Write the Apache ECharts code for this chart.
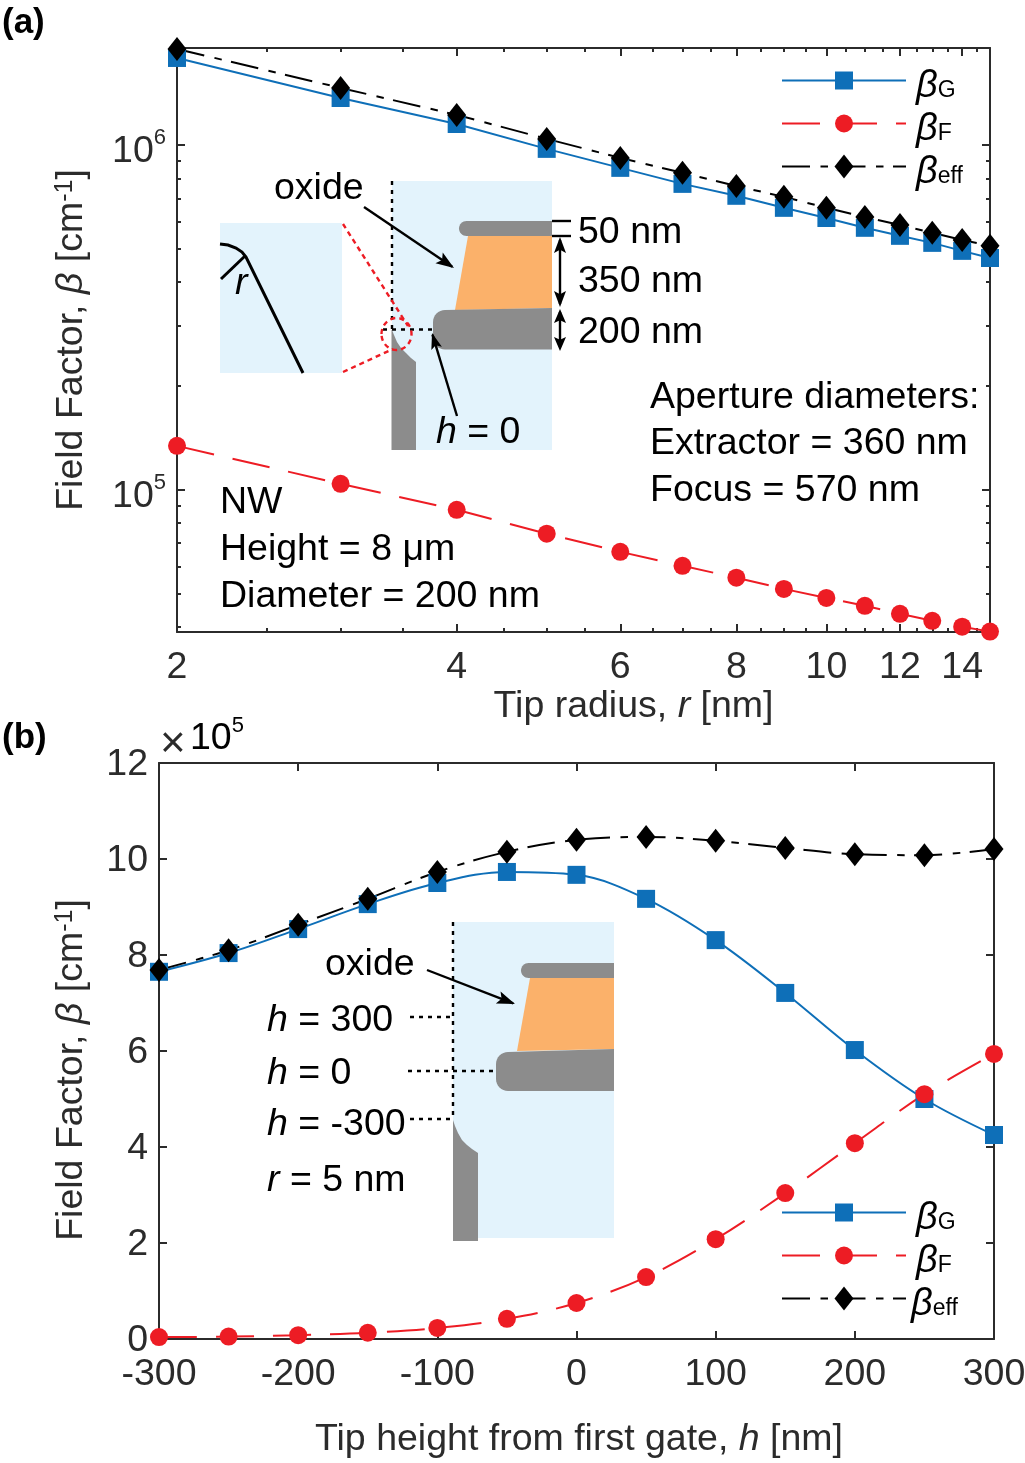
<!DOCTYPE html>
<html><head><meta charset="utf-8">
<style>html,body{margin:0;padding:0;background:#fff}#c{width:1025px;height:1463px}</style>
<script src="https://cdn.jsdelivr.net/npm/echarts@6/dist/echarts.min.js"></script>
</head><body><div id="c"></div>
<script>
// ---- panel (a) data
const radius = [2,3,4,5,6,7,8,9,10,11,12,13,14,15];
const aG = [1.787e6,1.368e6,1.150e6,0.974e6,0.858e6,0.771e6,0.712e6,0.657e6,0.614e6,0.575e6,0.545e6,0.520e6,0.493e6,0.470e6];
const aF = [1.341e5,1.041e5,0.875e5,0.746e5,0.661e5,0.602e5,0.556e5,0.516e5,0.486e5,0.461e5,0.437e5,0.417e5,0.401e5,0.388e5];
const aEff = [1.898e6,1.463e6,1.222e6,1.041e6,0.917e6,0.830e6,0.760e6,0.707e6,0.657e6,0.618e6,0.586e6,0.556e6,0.530e6,0.510e6];
const aXMajor = [2,4,6,8,10,12,14];
const aXMinor = [2.5,3,3.5,4.5,5,5.5,6.5,7,7.5,8.5,9,9.5,10.5,11,11.5,12.5,13,13.5,14.5];
const aYMajor = [1e5,1e6];
const aYMinor = [4e4,5e4,6e4,7e4,8e4,9e4,2e5,3e5,4e5,5e5,6e5,7e5,8e5,9e5];
// ---- panel (b) data
const height = [-300,-250,-200,-150,-100,-50,0,50,100,150,200,250,300];
const bG = [7.65,8.04,8.54,9.06,9.50,9.73,9.67,9.17,8.31,7.21,6.02,5.00,4.25];
const bF = [0.04,0.05,0.08,0.13,0.23,0.42,0.75,1.29,2.08,3.04,4.08,5.10,5.94];
const bEff = [7.69,8.10,8.63,9.17,9.73,10.15,10.40,10.46,10.38,10.23,10.10,10.08,10.21];
const bXMajor = [-300,-200,-100,0,100,200,300];
const bYMajor = [0,2,4,6,8,10,12];

const FONT = '"Liberation Sans", Arial, sans-serif';
const FS = 37.5, AX = '#2b2b2b', BLUE = '#0E6FB8', RED = '#ED1C24', GREY = '#8C8C8C', PALE = '#E3F3FC', ORANGE = '#FBB16A';

const tickAxis = (kind, type, min, max, grid, pos, vals, len, extra) => Object.assign({
  type, min, max, gridIndex: grid, position: pos, logBase: 10,
  axisLine: {show: !!(extra && extra.lineOn), onZero: false, lineStyle: {color: AX, width: 2}},
  axisTick: {show: true, inside: true, length: len, customValues: vals, lineStyle: {color: AX, width: 2}},
  axisLabel: {show: false, customValues: vals},
  splitLine: {show: false}, minorTick: {show: false}, minorSplitLine: {show: false}, nameMoveOverlap: false
}, extra || {});

const labelCommon = {show: true, color: AX, fontFamily: FONT, fontSize: FS};
const richBase = {
  i: {fontStyle: 'italic', fontFamily: FONT, fontSize: FS, color: AX},
  s: {fontFamily: FONT, fontSize: 25, color: AX, verticalAlign: 'top', padding: [0,0,12,0]},
};
const powRich = {
  b: {fontFamily: FONT, fontSize: FS, lineHeight: 37, color: AX, verticalAlign: 'top', padding: [6,0,0,0]},
  s: {fontFamily: FONT, fontSize: 22, lineHeight: 22, color: AX, verticalAlign: 'top', padding: [1,0,0,0]}
};
const xAxes = [
  tickAxis('x','log',2,15,0,'bottom',aXMajor,8,{lineOn:true,
    axisLabel:{...labelCommon, margin:17, customValues:aXMajor, formatter:v=>String(Math.round(v))},
    name:'Tip radius, {i|r} [nm]', nameLocation:'middle', nameGap:56,
    nameTextStyle:{color:AX,fontFamily:FONT,fontSize:FS,rich:richBase,padding:[0,0,0,100]}}),
  tickAxis('x','log',2,15,0,'bottom',aXMinor,4),
  tickAxis('x','log',2,15,0,'top',aXMajor,8,{lineOn:true}),
  tickAxis('x','log',2,15,0,'top',aXMinor,4),
  tickAxis('x','value',-300,300,1,'bottom',bXMajor,8,{lineOn:true, interval:100,
    axisLabel:{...labelCommon, margin:17, customValues:bXMajor},
    name:'Tip height from first gate, {i|h} [nm]', nameLocation:'middle', nameGap:82,
    nameTextStyle:{color:AX,fontFamily:FONT,fontSize:FS,rich:richBase,padding:[0,0,0,5]}}),
  tickAxis('x','value',-300,300,1,'top',bXMajor,8,{lineOn:true, interval:100}),
];
const yAxes = [
  tickAxis('y','log',3.87e4,1.91e6,0,'left',aYMajor,8,{lineOn:true,
    axisLabel:{show:true, margin:11, customValues:aYMajor,
      formatter:v=>'{b|10}{s|'+Math.round(Math.log10(v))+'}', rich:powRich},
    name:'Field Factor, {i|β} [cm{s|-1}]', nameLocation:'middle', nameGap:86,
    nameTextStyle:{color:AX,fontFamily:FONT,fontSize:FS,rich:richBase}}),
  tickAxis('y','log',3.87e4,1.91e6,0,'left',aYMinor,4),
  tickAxis('y','log',3.87e4,1.91e6,0,'right',aYMajor,8,{lineOn:true}),
  tickAxis('y','log',3.87e4,1.91e6,0,'right',aYMinor,4),
  tickAxis('y','value',0,12,1,'left',bYMajor,8,{lineOn:true, interval:2,
    axisLabel:{show:true, margin:11, customValues:bYMajor, formatter:v=>'{n|'+v+'}',
      rich:{n:{fontFamily:FONT,fontSize:FS,color:AX,padding:[4,0,0,0]}}},
    name:'Field Factor, {i|β} [cm{s|-1}]', nameLocation:'middle', nameGap:68,
    nameTextStyle:{color:AX,fontFamily:FONT,fontSize:FS,rich:richBase,padding:[0,38,0,0]}}),
  tickAxis('y','value',0,12,1,'right',bYMajor,8,{lineOn:true, interval:2}),
];

// marker paths share a 24-unit box, so the legend (one size for all) keeps their relative sizes
const ICON_G = 'path://M0 0L0 0M3 3H21V21H3ZM24 24L24 24';
const ICON_F = 'path://M0 0L0 0M12 3A9 9 0 1 1 12 21A9 9 0 1 1 12 3ZM24 24L24 24';
const ICON_E = 'path://M12 0L21.5 12L12 24L2.5 12ZM0 0L0 0M24 24L24 24';
const pairs = (x, y) => x.map((v, i) => [v, y[i]]);
const mk = (name, xi, yi, x, y, smooth) => {
  const st = {
    'βG': {color: BLUE, symbol: ICON_G, dash: 'solid'},
    'βF': {color: RED, symbol: ICON_F, dash: [38,19]},
    'βeff': {color: '#000', symbol: ICON_E, dash: [28,10.5,7.5,9.5]},
  }[name];
  return {
    type: 'line', name, xAxisIndex: xi, yAxisIndex: yi, data: pairs(x, y), clip: false,
    smooth: smooth ? 0.35 : false, symbol: st.symbol, symbolSize: 24, symbolKeepAspect: true,
    showSymbol: true, showAllSymbol: true, animation: false, z: 5,
    lineStyle: {color: st.color, width: 2, type: st.dash}, itemStyle: {color: st.color}
  };
};
const series = [
  mk('βG',0,0,radius,aG), mk('βF',0,0,radius,aF), mk('βeff',0,0,radius,aEff),
  mk('βG',4,4,height,bG,true), mk('βF',4,4,height,bF,true), mk('βeff',4,4,height,bEff,true),
];
const legendRich = {
  b: {fontFamily: FONT, fontStyle: 'italic', fontSize: 38, color: '#000', lineHeight: 35, verticalAlign:'top', padding:[4,0,0,5]},
  c: {fontFamily: FONT, fontStyle: 'italic', fontSize: 38, color: '#000', lineHeight: 35, verticalAlign:'top', padding:[4,0,0,0]},
  s: {fontFamily: FONT, fontSize: 23, color: '#000', lineHeight: 22, verticalAlign:'top', padding:[16,0,0,0]},
};
const legendData = ['βG','βF','βeff'];
const legendBase = {
  orient: 'vertical', itemWidth: 124, itemHeight: 30, itemGap: 1, symbolKeepAspect: true,
  selectedMode: false, padding: 0, inactiveColor: '#000',
  textStyle: {rich: legendRich},
  formatter: n => n === 'βeff' ? '{b|β}{s|eff}' : '{b|β}{s|' + n.slice(1) + '}'
};
const legendB = Object.assign({}, legendBase, {
  formatter: n => n === 'βeff' ? '{c|β}{s|eff}' : '{b|β}{s|' + n.slice(1) + '}'
});

// ---- drawn insets
const g = [];
const T = (x, y, text, o) => g.push({type:'text', x, y, z:20, style:Object.assign({
  text, fontFamily:FONT, fontSize:FS, fill:'#000', align:'left', verticalAlign:'middle',
  rich:{i:{fontStyle:'italic',fontFamily:FONT,fontSize:FS,fill:'#000',color:'#000'}}
}, o||{})});
const R = (x0,y0,x1,y1,c) => g.push({type:'rect', z:8, shape:{x:x0,y:y0,width:x1-x0,height:y1-y0}, style:{fill:c}});
const P = (pts,c) => g.push({type:'polygon', z:9, shape:{points:pts}, style:{fill:c}});
const L = (pts,o) => g.push({type:'polyline', z:10, shape:{points:pts}, style:Object.assign({stroke:'#000',lineWidth:2.4,fill:null},o||{})});
const head = (x,y,fx,fy,l,w) => {
  const a = Math.atan2(y-fy,x-fx), c=Math.cos(a), s=Math.sin(a);
  P([[x,y],[x-l*c-w/2*s,y-l*s+w/2*c],[x-l*0.8*c,y-l*0.8*s],[x-l*c+w/2*s,y-l*s-w/2*c]],'#000');
  g[g.length-1].z = 11;
};
const arrow = (x0,y0,x1,y1,l,w) => { L([[x0,y0],[x1-(x1-x0)*0.02,y1-(y1-y0)*0.02]]); head(x1,y1,x0,y0,l,w); };
const gate = (x0,x1,ytl,ytr,yb,r) => {
  const pts=[[x1,ytr],[x1,yb]], rb=r;
  for(let k=0;k<=8;k++){const a=Math.PI/2+k/8*Math.PI/2; pts.push([x0+rb+rb*Math.cos(a), yb-rb+rb*Math.sin(a)]);}
  const midy = ytl + rb;
  pts.push([x0, Math.min(midy, yb-rb)]);
  for(let k=0;k<=8;k++){const a=Math.PI+k/8*Math.PI/2; pts.push([x0+rb+rb*Math.cos(a), midy+rb*Math.sin(a)]);}
  P(pts,GREY);
};
const dots = {lineDash:[4,5]};
// panel a inset
R(220,223,342,373,PALE); R(392,181,552,450,PALE);
P([[392,330],[394,335],[397,342],[401,348],[406,353],[411,358],[416,362],[416,450],[391.5,450],[391.5,330]],GREY);
P([[468,236],[552,236],[552,308],[455,310]],ORANGE);
gate(433,552,310,308,349.5,12); gate(459,552,221,221,236,7.5);
L([[392,181],[392,330]],dots); L([[383,329.5],[433,329.5]],dots);
L([[343,224],[408,326]],{stroke:RED,lineDash:[5,4]}); L([[343,372],[393,349]],{stroke:RED,lineDash:[5,4]});
g.push({type:'ellipse',z:10,shape:{cx:396.5,cy:334,rx:15,ry:16},style:{fill:null,stroke:RED,lineWidth:2.4,lineDash:[5,4]}});
L([[220,244],[228,245],[236,248],[242,252],[246,257],[303,373]],{lineWidth:3}); L([[245,256],[221,279]],{lineWidth:3});
arrow(364,207,454,268,18,13); arrow(457,416,432,333,16,11);
L([[552,221],[571,221]]); L([[552,236],[571,236]]);
L([[560,240],[560,304]]); head(560,237,560,250,16,12); head(560,307,560,295,16,12);
L([[560,312],[560,347]]); head(560,309,560,322,14,12); head(560,351,560,338,14,12);
const Y = 2;
T(235,282+Y,'{i|r}'); T(274,187+Y,'oxide'); T(578,231+Y,'50 nm'); T(578,280+Y,'350 nm'); T(578,331+Y,'200 nm');
T(436,431+Y,'{i|h} = 0');
T(650,396+Y,'Aperture diameters:'); T(650,442+Y,'Extractor = 360 nm'); T(650,489+Y,'Focus = 570 nm');
T(220,501+Y,'NW'); T(220,548+Y,'Height = 8 μm'); T(220,595+Y,'Diameter = 200 nm');
// panel b inset
R(453,922,614,1238,PALE);
P([[453,1120],[455,1126],[458,1133],[462,1140],[467,1145],[472,1149],[478,1153],[478,1241],[453,1241]],GREY);
P([[530,978],[614,978],[614,1049],[517,1051]],ORANGE);
gate(496,614,1052,1049,1091,12); gate(521,614,963,963,978,7.5);
L([[453,922],[453,1120]],dots); L([[410,1017],[453,1017]],dots); L([[408,1071],[496,1071]],dots); L([[410,1119],[453,1119]],dots);
arrow(427,970,515,1004,18,13);
T(325,963+Y,'oxide'); T(267,1019+Y,'{i|h} = 300'); T(267,1072+Y,'{i|h} = 0'); T(267,1123+Y,'{i|h} = -300'); T(267,1179+Y,'{i|r} = 5 nm');
// panel letters & multiplier
T(2,23,'(a)',{fontWeight:'bold',fontSize:35}); T(2,738,'(b)',{fontWeight:'bold',fontSize:35});
T(160,745,'×',{fontSize:44,fill:AX});
T(190,732,'{b|10}{s|5}',{rich:powRich});

const chart = echarts.init(document.getElementById('c'), null, {renderer:'canvas', width:1025, height:1463});
chart.setOption({
  animation:false, backgroundColor:'#fff',
  grid:[{left:177,top:48,width:813,height:584,outerBoundsMode:'none'},{left:159,top:763,width:835,height:576,outerBoundsMode:'none'}],
  xAxis:xAxes, yAxis:yAxes, series,
  legend:[
    Object.assign({},legendBase,{left:781,top:63,data:legendData}),
    Object.assign({},legendB,{left:781,top:1195,data:legendData})
  ],
  graphic:{elements:g}
});
</script></body></html>
